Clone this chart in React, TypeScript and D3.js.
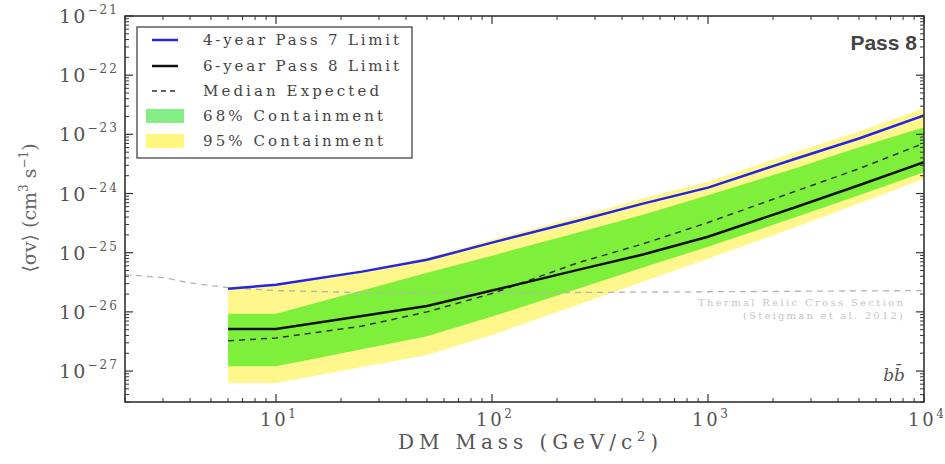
import React from "react";
import * as d3 from "d3";

const masses = [6, 10, 25, 50, 100, 250, 500, 1000, 2500, 5000, 10000];
const pass7Limit = [2.45e-26, 2.88e-26, 4.79e-26, 7.59e-26, 1.48e-25, 3.47e-25, 6.76e-25, 1.26e-24, 3.8e-24, 8.51e-24, 2.09e-23];
const pass8Limit = [5.13e-27, 5.13e-27, 8.51e-27, 1.26e-26, 2.29e-26, 5.13e-26, 9.33e-26, 1.86e-25, 5.75e-25, 1.38e-24, 3.39e-24];
const medianExpected = [3.24e-27, 3.63e-27, 5.75e-27, 1.0e-26, 2.04e-26, 6.76e-26, 1.41e-25, 3.24e-25, 1.07e-24, 2.63e-24, 7.08e-24];
const band68Upper = [9.3e-27, 9.3e-27, 2.29e-26, 4.57e-26, 8.91e-26, 2.19e-25, 4.37e-25, 9.33e-25, 2.63e-24, 6.03e-24, 1.32e-23];
const band68Lower = [1.2e-27, 1.2e-27, 2.34e-27, 3.89e-27, 8.32e-27, 2.45e-26, 5.62e-26, 1.26e-25, 3.89e-25, 9.33e-25, 2.29e-24];
const band95Upper = [2.57e-26, 2.95e-26, 4.9e-26, 8.32e-26, 1.66e-25, 4.07e-25, 8.32e-25, 1.58e-24, 4.9e-24, 1.12e-23, 2.75e-23];
const band95Lower = [6.31e-28, 6.31e-28, 1.17e-27, 1.86e-27, 4.07e-27, 1.32e-26, 3.24e-26, 7.94e-26, 2.63e-25, 6.76e-25, 1.78e-24];

const thermalMasses = [2, 3, 4, 6, 10, 30, 100, 1000, 10000];
const thermalRelic = [4.27e-26, 3.8e-26, 3.09e-26, 2.57e-26, 2.29e-26, 2.09e-26, 2.09e-26, 2.19e-26, 2.29e-26];

const yTickExps = ["-21", "-22", "-23", "-24", "-25", "-26", "-27"];
const yTickValues = [1e-21, 1e-22, 1e-23, 1e-24, 1e-25, 1e-26, 1e-27];
const xTickExps = ["1", "2", "3", "4"];
const xTickValues = [10, 100, 1000, 10000];

const legendLabels = [
  "4-year Pass 7 Limit",
  "6-year Pass 8 Limit",
  "Median Expected",
  "68% Containment",
  "95% Containment",
];

const W = 945;
const H = 464;
const L = 125, R = 924, T = 16, B = 402;

export default function App() {
  const x = d3.scaleLog().domain([2, 1e4]).range([L, R]);
  const y = d3.scaleLog().domain([3e-28, 1e-21]).range([B, T]);

  const line = (xs: number[], ys: number[]) =>
    d3.line<number>().x((_, i) => x(xs[i])).y((d) => y(d))(ys) as string;
  const area = (lo: number[], hi: number[]) =>
    d3
      .area<number>()
      .x((_, i) => x(masses[i]))
      .y0((_, i) => y(lo[i]))
      .y1((_, i) => y(hi[i]))(masses) as string;

  const yMinor: number[] = [];
  for (let e = -28; e <= -22; e++) {
    for (let k = 2; k <= 9; k++) {
      const v = k * Math.pow(10, e);
      if (v >= 3e-28 && v <= 1e-21) yMinor.push(v);
    }
  }
  const xMinor: number[] = [];
  for (let e = 0; e <= 3; e++) {
    for (let k = 2; k <= 9; k++) {
      const v = k * Math.pow(10, e);
      if (v >= 2 && v <= 1e4) xMinor.push(v);
    }
  }

  const frame = "#333";
  const serif = "'DejaVu Serif', 'Liberation Serif', serif";
  const legendY = [40, 66, 91, 116, 141];

  return (
    <div style={{ position: "absolute", left: 0, top: 0 }}>
      <svg width={W} height={H} style={{ display: "block", background: "#fff" }}>
        <defs>
          <clipPath id="plotclip">
            <rect x={L} y={T} width={R - L} height={B - T} />
          </clipPath>
        </defs>
        <g clipPath="url(#plotclip)">
          <path d={area(band95Lower, band95Upper)} fill="#fff68c" />
          <path d={area(band68Lower, band68Upper)} fill="#7ef03c" />
          <path d={line(thermalMasses, thermalRelic)} fill="none" stroke="#b4b4b4" strokeWidth={1.3} strokeDasharray="6,5" />
          <path d={line(masses, medianExpected)} fill="none" stroke="#333" strokeWidth={1.5} strokeDasharray="6,5" />
          <path d={line(masses, pass8Limit)} fill="none" stroke="#111" strokeWidth={2.5} />
          <path d={line(masses, pass7Limit)} fill="none" stroke="#2424e8" strokeWidth={2.5} />
        </g>

        <rect x={L} y={T} width={R - L} height={B - T} fill="none" stroke={frame} strokeWidth={1.6} />

        {yTickValues.map((v, i) => (
          <g key={"yt" + i}>
            <line x1={L} x2={L + 8} y1={y(v)} y2={y(v)} stroke={frame} strokeWidth={1.2} />
            <line x1={R} x2={R - 8} y1={y(v)} y2={y(v)} stroke={frame} strokeWidth={1.2} />
            <text x={117} y={y(v) + 7} textAnchor="end" fontFamily={serif} fontSize={19} fill="#555"
              textLength={58} lengthAdjust="spacing">
              10
              <tspan dy={-9} fontSize={12}>{yTickExps[i].replace("-", "\u2212")}</tspan>
            </text>
          </g>
        ))}
        {yMinor.map((v, i) => (
          <g key={"ym" + i}>
            <line x1={L} x2={L + 4} y1={y(v)} y2={y(v)} stroke={frame} strokeWidth={1} />
            <line x1={R} x2={R - 4} y1={y(v)} y2={y(v)} stroke={frame} strokeWidth={1} />
          </g>
        ))}

        {xTickValues.map((v, i) => (
          <g key={"xt" + i}>
            <line x1={x(v)} x2={x(v)} y1={B} y2={B - 8} stroke={frame} strokeWidth={1.2} />
            <line x1={x(v)} x2={x(v)} y1={T} y2={T + 8} stroke={frame} strokeWidth={1.2} />
            <text x={x(v) + 2} y={426} textAnchor="middle" fontFamily={serif} fontSize={18} fill="#555"
              textLength={36} lengthAdjust="spacing">
              10
              <tspan dy={-8} fontSize={12}>{xTickExps[i]}</tspan>
            </text>
          </g>
        ))}
        {xMinor.map((v, i) => (
          <g key={"xm" + i}>
            <line x1={x(v)} x2={x(v)} y1={B} y2={B - 4} stroke={frame} strokeWidth={1} />
            <line x1={x(v)} x2={x(v)} y1={T} y2={T + 4} stroke={frame} strokeWidth={1} />
          </g>
        ))}

        <text x={528} y={449} textAnchor="middle" fontFamily={serif} fontSize={20} fill="#555"
          textLength={260} lengthAdjust="spacing">
          DM Mass (GeV/c
          <tspan dy={-8} fontSize={13}>2</tspan>
          <tspan dy={8}>)</tspan>
        </text>
        <text transform={`translate(36, 208) rotate(-90)`} textAnchor="middle" fontFamily={serif} fontSize={19} fill="#666">
          ⟨σv⟩ (cm
          <tspan dy={-8} fontSize={12}>3</tspan>
          <tspan dy={8}> s</tspan>
          <tspan dy={-8} fontSize={12}>−1</tspan>
          <tspan dy={8}>)</tspan>
        </text>

        <rect x={137} y={27} width={275} height={131} fill="#fff" stroke="#444" strokeWidth={1.3} />
        <line x1={152} x2={178} y1={legendY[0]} y2={legendY[0]} stroke="#2424e8" strokeWidth={2.5} />
        <line x1={152} x2={178} y1={legendY[1]} y2={legendY[1]} stroke="#111" strokeWidth={2.5} />
        <line x1={152} x2={178} y1={legendY[2]} y2={legendY[2]} stroke="#333" strokeWidth={1.5} strokeDasharray="5,4" />
        <rect x={146} y={legendY[3] - 7} width={38} height={14} fill="#84ee84" />
        <rect x={146} y={legendY[4] - 7} width={38} height={14} fill="#fff680" />
        {legendLabels.map((t, i) => (
          <text key={"lg" + i} x={203} y={legendY[i] + 5} fontFamily={serif} fontSize={15} fill="#444"
            textLength={[196, 196, 176, 180, 180][i]} lengthAdjust="spacing">
            {t}
          </text>
        ))}

        <text x={917} y={50} textAnchor="end" fontFamily="'Liberation Sans', Arial, sans-serif" fontWeight="bold" fontSize={21} fill="#444">
          Pass 8
        </text>
        <text x={903} y={306} textAnchor="end" fontFamily={serif} fontSize={10} fill="#c4c4c4" textLength={205} lengthAdjust="spacing">
          Thermal Relic Cross Section
        </text>
        <text x={903} y={319} textAnchor="end" fontFamily={serif} fontSize={10} fill="#c4c4c4" textLength={160} lengthAdjust="spacing">
          (Steigman et al. 2012)
        </text>
        <text x={905} y={381} textAnchor="end" fontFamily={serif} fontStyle="italic" fontSize={17} fill="#555">
          b
          <tspan>b̄</tspan>
        </text>
      </svg>
    </div>
  );
}
